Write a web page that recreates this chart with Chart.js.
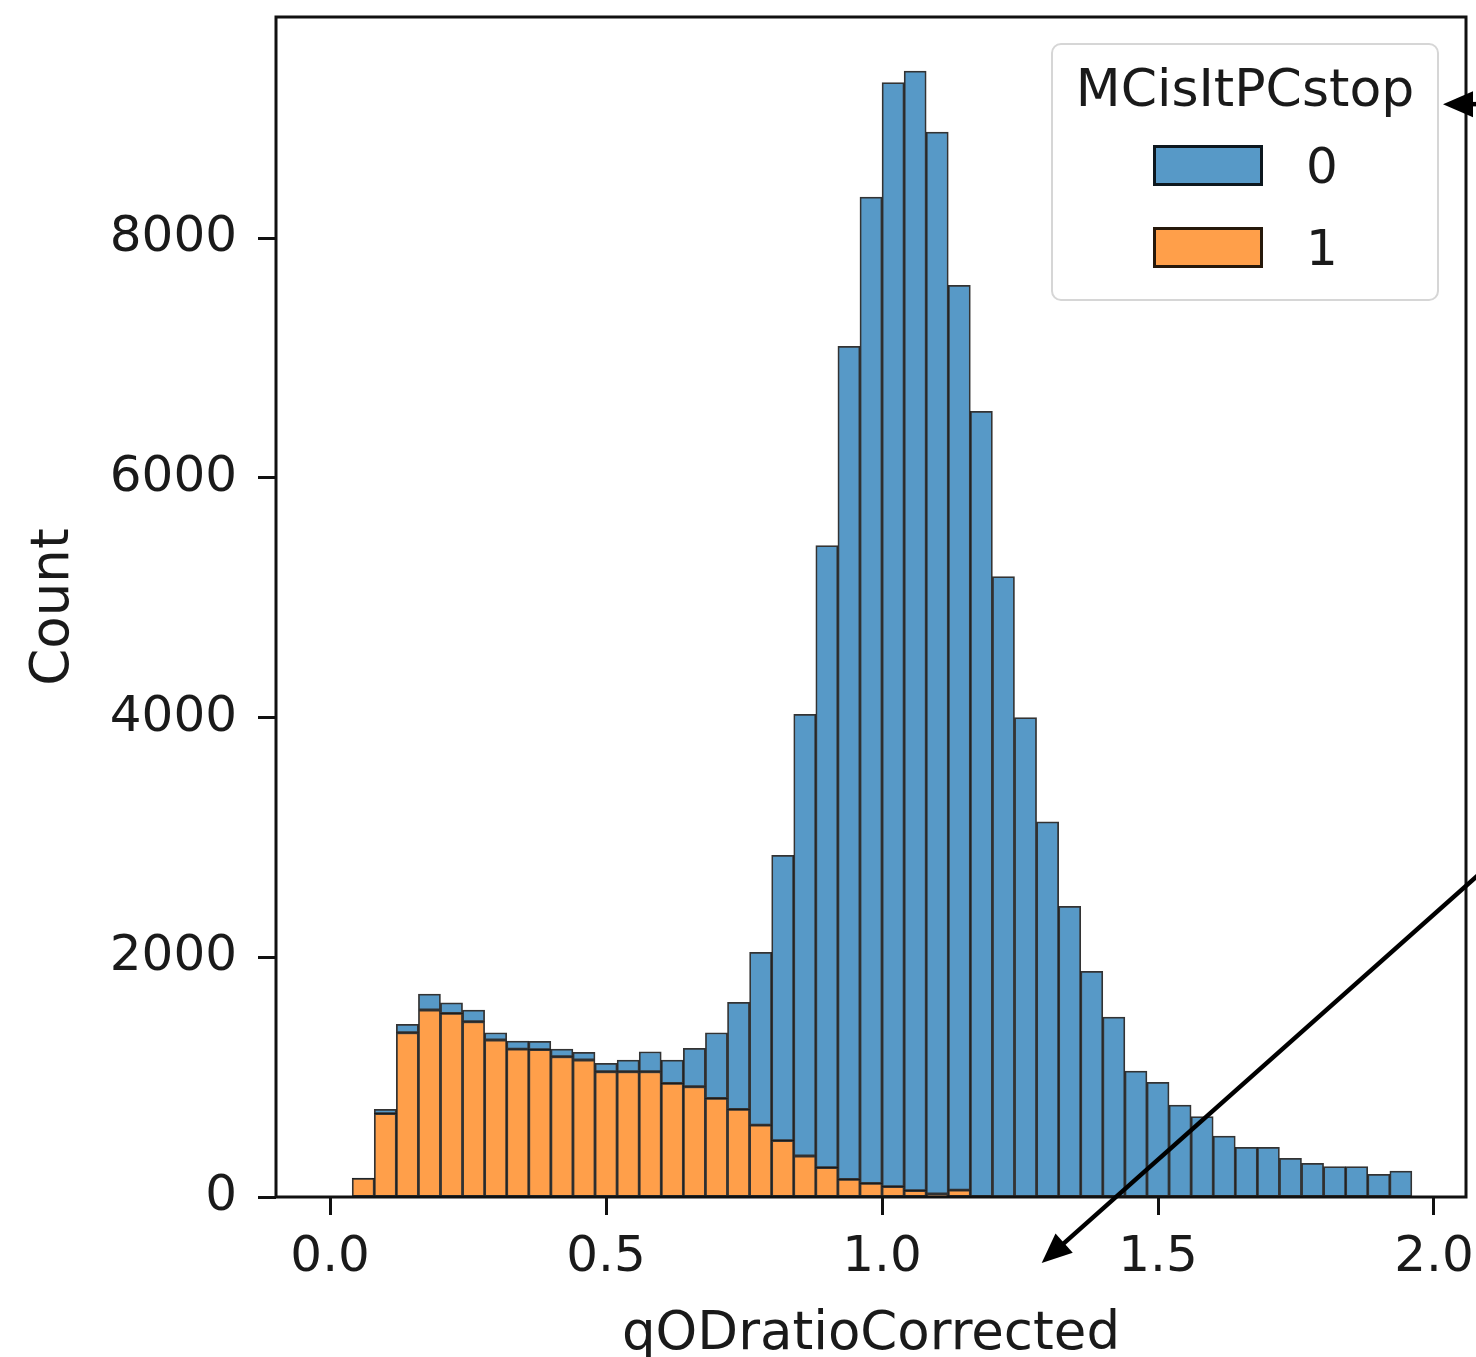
<!DOCTYPE html>
<html>
<head>
<meta charset="utf-8">
<script src="https://cdn.jsdelivr.net/npm/chart.js@4.4.1/dist/chart.umd.min.js"></script>
<style>
  body { margin: 0; background: #fff; }
</style>
</head>
<body>
<canvas id="hist" width="1476" height="1357"></canvas>
<script>
// histogram bins (left edges), width 0.04
const binWidth = 0.04;
const binStart = [0.00, 0.04, 0.08, 0.12, 0.16, 0.20, 0.24, 0.28, 0.32, 0.36,
  0.40, 0.44, 0.48, 0.52, 0.56, 0.60, 0.64, 0.68, 0.72, 0.76,
  0.80, 0.84, 0.88, 0.92, 0.96, 1.00, 1.04, 1.08, 1.12, 1.16,
  1.20, 1.24, 1.28, 1.32, 1.36, 1.40, 1.44, 1.48, 1.52, 1.56,
  1.60, 1.64, 1.68, 1.72, 1.76, 1.80, 1.84, 1.88, 1.92];

// MCisItPCstop = 0
const countsStop0 = [0, 2, 36, 70, 133, 88, 98, 60, 66, 68,
  64, 64, 70, 98, 167, 195, 320, 547, 894, 1441,
  2380, 3686, 5190, 6951, 8229, 9211, 9341, 8860, 7548, 6550,
  5174, 3997, 3130, 2425, 1882, 1501, 1051, 956, 767, 670,
  509, 414, 414, 322, 281, 253, 253, 189, 217];

// MCisItPCstop = 1
const countsStop1 = [0, 155, 695, 1370, 1560, 1532, 1462, 1310, 1234, 1230,
  1170, 1143, 1045, 1045, 1045, 948, 920, 823, 731, 600,
  470, 342, 245, 147, 114, 86, 53, 25, 58, 5,
  3, 2, 0, 0, 0, 0, 0, 0, 0, 0,
  0, 0, 0, 0, 0, 0, 0, 0, 0];

const hueLevels = ['0', '1'];
const xTicks = [0.0, 0.5, 1.0, 1.5, 2.0];
const yTicks = [0, 2000, 4000, 6000, 8000];

// annotation arrows, in data units [x, y]
const arrows = [
  { from: [2.12, 9118], to: [2.0163, 9118] },
  { from: [2.12, 2850], to: [1.2893, -551] }
];

const colors = { '0': '#5799c7', '1': '#ff9f4a' };
const edge = 'rgba(0,0,0,0.8)';
const textColor = '#1a1a1a';
const fontFamily = "'DejaVu Sans', sans-serif";

const toPoints = counts => binStart.map((s, i) => ({ x: s + binWidth / 2, y: counts[i] }));

// black box around the axes
const frame = {
  id: 'frame',
  afterDatasetsDraw(chart) {
    const { ctx, chartArea: a } = chart;
    ctx.save();
    ctx.strokeStyle = '#111';
    ctx.lineWidth = 3;
    ctx.strokeRect(a.left, a.top, a.right - a.left, a.bottom - a.top);
    ctx.restore();
  }
};

// seaborn style legend with title
const hueLegend = {
  id: 'hueLegend',
  afterDraw(chart) {
    const { ctx, chartArea: a } = chart;
    const w = 386, h = 256;
    const x0 = a.right - 28 - w, y0 = a.top + 27, r = 9;
    ctx.save();
    ctx.beginPath();
    ctx.moveTo(x0 + r, y0);
    ctx.arcTo(x0 + w, y0, x0 + w, y0 + h, r);
    ctx.arcTo(x0 + w, y0 + h, x0, y0 + h, r);
    ctx.arcTo(x0, y0 + h, x0, y0, r);
    ctx.arcTo(x0, y0, x0 + w, y0, r);
    ctx.closePath();
    ctx.fillStyle = 'rgba(255,255,255,0.8)';
    ctx.fill();
    ctx.strokeStyle = '#d6d6d6';
    ctx.lineWidth = 2;
    ctx.stroke();

    ctx.fillStyle = textColor;
    ctx.textBaseline = 'alphabetic';
    ctx.textAlign = 'center';
    ctx.font = '52px ' + fontFamily;
    ctx.fillText('MCisItPCstop', x0 + w / 2, y0 + 62);

    ctx.font = '50px ' + fontFamily;
    ctx.textAlign = 'left';
    hueLevels.forEach((lvl, i) => {
      const py = y0 + 101 + i * 82;
      ctx.fillStyle = colors[lvl];
      ctx.fillRect(x0 + 101, py, 110, 41);
      ctx.strokeStyle = 'rgba(0,0,0,0.85)';
      ctx.lineWidth = 3;
      ctx.strokeRect(x0 + 102.5, py + 1.5, 107, 38);
      ctx.fillStyle = textColor;
      ctx.fillText(lvl, x0 + 254, y0 + 139 + i * 82);
    });
    ctx.restore();
  }
};

// the two black arrows drawn over the figure
const arrowLayer = {
  id: 'arrowLayer',
  afterDraw(chart) {
    const { ctx, scales: { x, y } } = chart;
    ctx.save();
    ctx.strokeStyle = '#000';
    ctx.fillStyle = '#000';
    ctx.lineWidth = 4.5;
    arrows.forEach(ar => {
      const x1 = x.getPixelForValue(ar.from[0]), y1 = y.getPixelForValue(ar.from[1]);
      const x2 = x.getPixelForValue(ar.to[0]), y2 = y.getPixelForValue(ar.to[1]);
      const ang = Math.atan2(y2 - y1, x2 - x1);
      const hl = 30, hw = 13;
      const bx = x2 - hl * Math.cos(ang), by = y2 - hl * Math.sin(ang);
      ctx.beginPath();
      ctx.moveTo(x1, y1);
      ctx.lineTo(bx + 2 * Math.cos(ang), by + 2 * Math.sin(ang));
      ctx.stroke();
      ctx.beginPath();
      ctx.moveTo(x2, y2);
      ctx.lineTo(bx + hw * Math.sin(ang), by - hw * Math.cos(ang));
      ctx.lineTo(bx - hw * Math.sin(ang), by + hw * Math.cos(ang));
      ctx.closePath();
      ctx.fill();
    });
    ctx.restore();
  }
};

new Chart(document.getElementById('hist'), {
  type: 'bar',
  data: {
    datasets: [{
      label: hueLevels[1],
      data: toPoints(countsStop1),
      backgroundColor: colors['1'],
      stack: 'hist'
    }, {
      label: hueLevels[0],
      data: toPoints(countsStop0),
      backgroundColor: colors['0'],
      stack: 'hist'
    }]
  },
  options: {
    responsive: false,
    animation: false,
    layout: { padding: { top: 17, right: 10, left: 0, bottom: 0 } },
    datasets: {
      bar: {
        barPercentage: 1,
        categoryPercentage: 1,
        borderWidth: 1.75,
        borderColor: edge,
        borderSkipped: false
      }
    },
    plugins: {
      legend: { display: false },
      tooltip: { enabled: false }
    },
    scales: {
      x: {
        type: 'linear',
        min: -0.098,
        max: 2.058,
        offset: false,
        afterBuildTicks: s => { s.ticks = xTicks.map(v => ({ value: v })); },
        afterFit: s => { s.height = 160; s.paddingLeft = 0; s.paddingRight = 0; },
        grid: { display: true, offset: false, drawOnChartArea: false, tickLength: 18, tickWidth: 3, tickColor: '#111' },
        border: { display: false },
        ticks: {
          padding: 13,
          color: textColor,
          font: { family: fontFamily, size: 50 },
          maxRotation: 0,
          callback: v => v.toFixed(1)
        },
        title: {
          display: true,
          text: 'qODratioCorrected',
          color: textColor,
          font: { family: fontFamily, size: 53 },
          padding: { top: 0, bottom: -10 }
        }
      },
      y: {
        stacked: true,
        min: 0,
        max: 9845,
        afterBuildTicks: s => { s.ticks = yTicks.map(v => ({ value: v })); },
        afterFit: s => { s.width = 276; s.paddingTop = 0; s.paddingBottom = 0; },
        grid: { display: true, drawOnChartArea: false, tickLength: 18, tickWidth: 3, tickColor: '#111' },
        border: { display: false },
        ticks: {
          padding: 21,
          color: textColor,
          font: { family: fontFamily, size: 50 },
          callback: v => String(v)
        },
        title: {
          display: true,
          text: 'Count',
          color: textColor,
          font: { family: fontFamily, size: 53 },
          padding: { top: 22, bottom: 0 }
        }
      }
    }
  },
  plugins: [frame, hueLegend, arrowLayer]
});
</script>
</body>
</html>
